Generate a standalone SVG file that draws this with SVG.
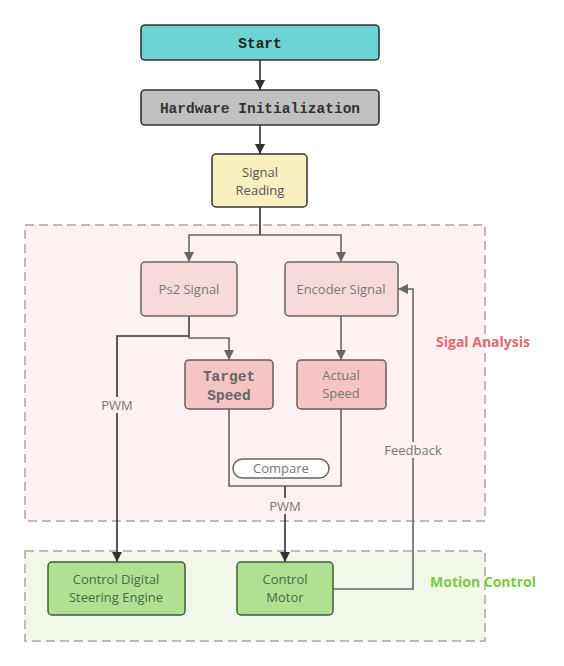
<svg xmlns="http://www.w3.org/2000/svg" width="564" height="666" viewBox="0 0 564 666">
<defs>
<marker id="ad" viewBox="0 0 10 10" refX="10" refY="5" markerWidth="10" markerHeight="10" markerUnits="userSpaceOnUse" orient="auto"><path d="M0,0 L10,5 L0,10 z" fill="#333"/></marker>
<marker id="ag" viewBox="0 0 10 10" refX="10" refY="5" markerWidth="10" markerHeight="10" markerUnits="userSpaceOnUse" orient="auto"><path d="M0,0 L10,5 L0,10 z" fill="#666"/></marker>
</defs>
<style>
.mono{font-family:"Liberation Mono","DejaVu Sans Mono",monospace;font-weight:bold;font-size:14.5px;text-anchor:middle}
.sans{font-family:"Open Sans","Noto Sans",sans-serif;font-size:13px;text-anchor:middle}
.grp{stroke:#c0b8b8;stroke-width:2;stroke-dasharray:9 5}
.c{fill:none;stroke-width:1.6}
.cd{stroke:#333}
.cg{stroke:#666}
.lbl{font-family:"Open Sans","Noto Sans",sans-serif;font-size:13px;fill:#777;text-anchor:middle}
.pink{fill:#f9dadb;stroke:#6e6262;stroke-width:1.5}
.pink2{fill:#f5c4c5;stroke:#6e5a5a;stroke-width:1.5}
.green{fill:#b0e193;stroke:#3f5e37;stroke-width:1.5}
</style>
<g id="group-signal-analysis">
<rect x="25" y="225" width="460" height="296" fill="#fdf1f2" class="grp"/>
<text x="483" y="347" font-family="'Open Sans','Noto Sans',sans-serif" font-weight="bold" font-size="14" fill="#e06a6e" text-anchor="middle">Sigal Analysis</text>
</g>
<g id="group-motion-control">
<rect x="25" y="551" width="460" height="90" fill="#f1f8ea" class="grp"/>
<text x="483" y="587" font-family="'Open Sans','Noto Sans',sans-serif" font-weight="bold" font-size="14" fill="#7cc943" text-anchor="middle">Motion Control</text>
</g>
<g id="connectors">
<path class="c cd" d="M260,60 V90" marker-end="url(#ad)"/>
<path class="c cd" d="M260,125 V154" marker-end="url(#ad)"/>
<path class="c cd" d="M260,207 V235"/>
<path class="c cg" d="M260,235 H189 V262" marker-end="url(#ag)"/>
<path class="c cg" d="M260,235 H341 V262" marker-end="url(#ag)"/>
<path class="c cd" d="M189,316 V336 H117 V562" marker-end="url(#ad)"/>
<path class="c cg" d="M189,316 V338 H229 V360" marker-end="url(#ag)"/>
<path class="c cg" d="M341,316 V360" marker-end="url(#ag)"/>
<path class="c cg" d="M229,409 V486 H341 V409"/>
<path class="c cd" d="M285,486 V562" marker-end="url(#ad)"/>
<path class="c cg" d="M333,589 H413 V289 H398" marker-end="url(#ag)"/>
<rect x="98" y="397" width="38" height="16" fill="#fdf1f2"/>
<text class="lbl" x="117" y="410">PWM</text>
<rect x="267" y="498" width="36" height="16" fill="#fdf1f2"/>
<text class="lbl" x="285" y="511">PWM</text>
<rect x="382" y="442" width="62" height="16" fill="#fdf1f2"/>
<text class="lbl" x="413" y="455">Feedback</text>
<rect x="233" y="459" width="96" height="19" rx="9.5" fill="#fff" stroke="#666" stroke-width="1.5"/>
<text class="lbl" x="281" y="473">Compare</text>
</g>
<g id="node-start">
<rect x="141" y="25" width="238" height="35" rx="4" fill="#6ed3d5" stroke="#333" stroke-width="1.6"/>
<text class="mono" x="260" y="48" fill="#222">Start</text>
</g>
<g id="node-hw-init">
<rect x="141" y="90" width="238" height="35" rx="4" fill="#c0c0c0" stroke="#333" stroke-width="1.6"/>
<text class="mono" x="260" y="113" fill="#333">Hardware Initialization</text>
</g>
<g id="node-signal-reading">
<rect x="212" y="154" width="95" height="53" rx="4" fill="#f8f0c0" stroke="#333" stroke-width="1.5"/>
<text class="sans" x="260" y="177" fill="#555">Signal</text>
<text class="sans" x="260" y="195" fill="#555">Reading</text>
</g>
<g id="node-ps2">
<rect class="pink" x="141" y="262" width="96" height="54" rx="4"/>
<text class="sans" x="189" y="294" fill="#777">Ps2 Signal</text>
</g>
<g id="node-encoder">
<rect class="pink" x="285" y="262" width="113" height="54" rx="4"/>
<text class="sans" x="341" y="294" fill="#777">Encoder Signal</text>
</g>
<g id="node-target-speed">
<rect class="pink2" x="185" y="360" width="88" height="49" rx="4" stroke-width="2"/>
<text class="mono" x="229" y="381" fill="#666">Target</text>
<text class="mono" x="229" y="400" fill="#666">Speed</text>
</g>
<g id="node-actual-speed">
<rect class="pink2" x="297" y="360" width="89" height="49" rx="4"/>
<text class="sans" x="341" y="380" fill="#777">Actual</text>
<text class="sans" x="341" y="398" fill="#777">Speed</text>
</g>
<g id="node-steering">
<rect class="green" x="48" y="562" width="137" height="53" rx="4"/>
<text class="sans" x="116" y="584" fill="#4a6a40">Control Digital</text>
<text class="sans" x="116" y="602" fill="#4a6a40">Steering Engine</text>
</g>
<g id="node-motor">
<rect class="green" x="237" y="562" width="96" height="53" rx="4"/>
<text class="sans" x="285" y="584" fill="#4a6a40">Control</text>
<text class="sans" x="285" y="602" fill="#4a6a40">Motor</text>
</g>
</svg>
